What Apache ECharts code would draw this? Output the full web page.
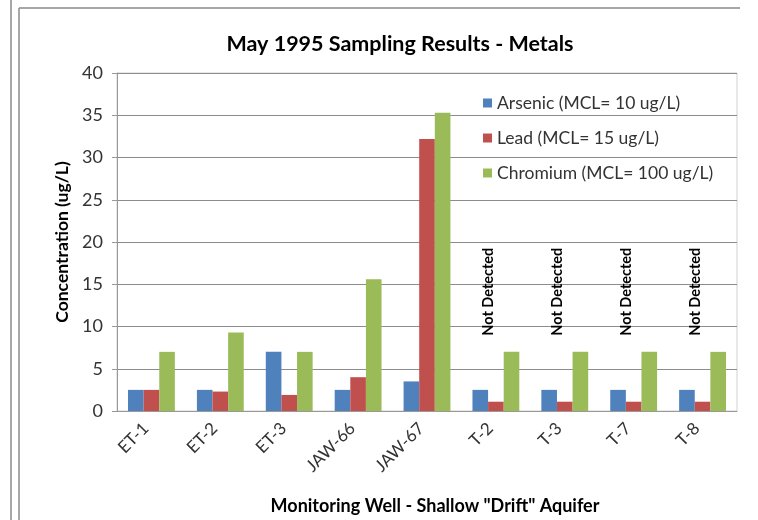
<!DOCTYPE html>
<html>
<head>
<meta charset="utf-8">
<script src="https://cdn.jsdelivr.net/npm/echarts@6/dist/echarts.min.js"></script>
<style>
html,body{margin:0;padding:0;background:#fff;}
#chart{width:758px;height:520px;}
</style>
</head>
<body>
<div id="chart"></div>
<script>
var categories = ['ET-1','ET-2','ET-3','JAW-66','JAW-67','T-2','T-3','T-7','T-8'];
var arsenic = [2.5, 2.5, 7, 2.5, 3.5, 2.5, 2.5, 2.5, 2.5];
var lead = [2.5, 2.3, 1.9, 4, 32.2, 1.1, 1.1, 1.1, 1.1];
var chromium = [7, 9.3, 7, 15.6, 35.3, 7, 7, 7, 7];
var notDetected = [false, false, false, false, false, true, true, true, true];
var seriesNames = ['Arsenic (MCL= 10 ug/L)', 'Lead (MCL= 15 ug/L)', 'Chromium (MCL= 100 ug/L)'];
var yTicks = [0, 5, 10, 15, 20, 25, 30, 35, 40];

var FONT = 'Lato, "Open Sans", sans-serif';
var chart = echarts.init(document.getElementById('chart'), null, {renderer: 'canvas'});

var leadData = lead.map(function (v, i) {
  var d = {value: v};
  if (notDetected[i]) {
    d.label = {
      show: true,
      formatter: 'Not Detected',
      position: 'top',
      rotate: 90,
      align: 'left',
      verticalAlign: 'bottom',
      distance: 66,
      color: '#000',
      fontWeight: 'bold',
      fontSize: 14.5,
      fontFamily: FONT
    };
  }
  return d;
});

var option = {
  backgroundColor: '#fff',
  animation: false,
  color: ['#4F81BD', '#C0504D', '#9BBB59'],
  title: {
    text: 'May 1995 Sampling Results - Metals',
    left: 395,
    textAlign: 'center',
    top: 28,
    textStyle: {fontFamily: FONT, fontSize: 21.5, fontWeight: 'bold', color: '#000'}
  },
  legend: {
    orient: 'vertical',
    left: 478,
    top: 89,
    itemWidth: 9,
    itemHeight: 9,
    itemGap: 17,
    icon: 'rect',
    textStyle: {fontFamily: FONT, fontSize: 17.5, color: '#333'},
    data: seriesNames
  },
  grid: {
    left: 117, right: 21, top: 73, bottom: 108,
    show: true, borderColor: '#d0d0d0', borderWidth: 1,
    containLabel: false
  },
  xAxis: {
    type: 'category',
    data: categories,
    name: 'Monitoring Well - Shallow "Drift" Aquifer',
    nameLocation: 'middle',
    nameGap: 86,
    nameTextStyle: {fontFamily: FONT, fontSize: 18, fontWeight: 'bold', color: '#000', padding: [0, 0, 0, 16]},
    axisLine: {lineStyle: {color: '#999'}},
    axisTick: {show: false},
    axisLabel: {rotate: 45, fontFamily: FONT, fontSize: 17, color: '#333', margin: 9, padding: [0, 8, 0, 0], interval: 0}
  },
  yAxis: {
    type: 'value',
    min: yTicks[0],
    max: yTicks[yTicks.length - 1],
    interval: yTicks[1] - yTicks[0],
    name: 'Concentration (ug/L)',
    nameLocation: 'middle',
    nameGap: 44,
    nameTextStyle: {fontFamily: FONT, fontSize: 17.5, fontWeight: 'bold', color: '#000'},
    axisLine: {show: true, lineStyle: {color: '#999'}},
    axisTick: {show: true, length: 5, lineStyle: {color: '#999'}},
    axisLabel: {fontFamily: FONT, fontSize: 18, color: '#333', margin: 14},
    splitLine: {lineStyle: {color: '#8c8c8c'}}
  },
  series: [
    {name: seriesNames[0], type: 'bar', data: arsenic, barGap: '0%', barCategoryGap: '32%'},
    {name: seriesNames[1], type: 'bar', data: leadData, barGap: '0%', barCategoryGap: '32%'},
    {name: seriesNames[2], type: 'bar', data: chromium, barGap: '0%', barCategoryGap: '32%'}
  ],
  graphic: [
    {type: 'line', shape: {x1: 11, y1: 0, x2: 11, y2: 520}, style: {stroke: '#8a8a8a', lineWidth: 1.5}},
    {type: 'line', shape: {x1: 19, y1: 8, x2: 19, y2: 520}, style: {stroke: '#8a8a8a', lineWidth: 1.5}},
    {type: 'line', shape: {x1: 19, y1: 8, x2: 740, y2: 8}, style: {stroke: '#8a8a8a', lineWidth: 1.5}}
  ]
};
chart.setOption(option);
</script>
</body>
</html>
